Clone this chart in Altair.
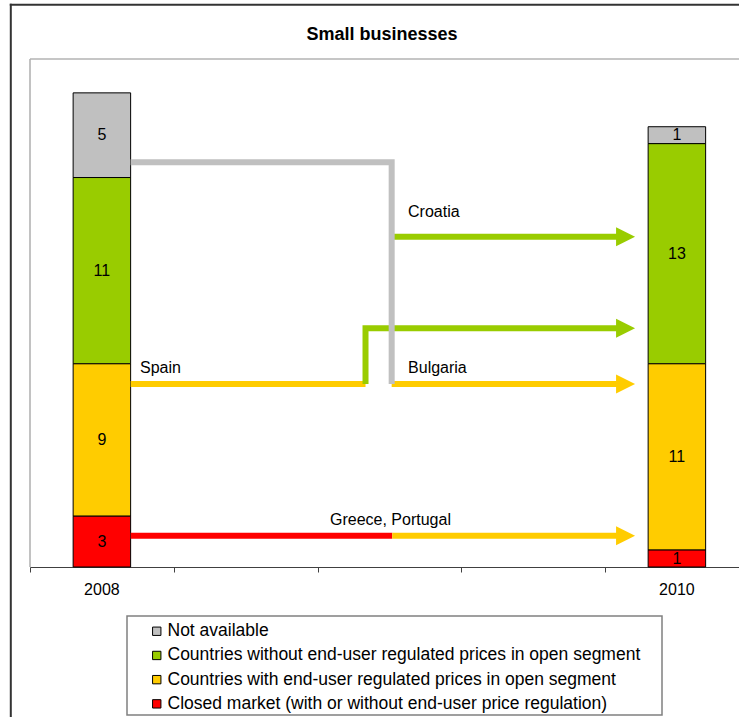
import altair as alt
import pandas as pd

# ---- data -------------------------------------------------------------
categories = [
    "Not available",
    "Countries without end-user regulated prices in open segment",
    "Countries with end-user regulated prices in open segment",
    "Closed market (with or without end-user price regulation)",
]
colors = ["#C0C0C0", "#99CC00", "#FFCC00", "#FF0000"]

years = ["2008", "2010"]
year_slots = [0, 4]            # the axis has five slots; 2008 sits in the first, 2010 in the last
counts_2008 = [5, 11, 9, 3]    # same order as categories
counts_2010 = [1, 13, 11, 1]

# country movements between the two years (x in slots, y in number of countries)
flow_ids = ["spain_a", "spain_b", "greece_a", "greece_b", "croatia", "bulgaria", "na"]
flow_cat = [2, 1, 3, 2, 1, 2, 0]
flow_x = [
    [0.7, 2.334],
    [2.334, 2.334, 4.143],
    [0.7, 2.52],
    [2.52, 4.143],
    [2.516, 4.143],
    [2.516, 4.143],
    [0.7, 2.516, 2.516],
]
flow_y = [
    [10.8, 10.8],
    [10.8, 14.1, 14.1],
    [1.85, 1.85],
    [1.85, 1.85],
    [19.5, 19.5],
    [10.8, 10.8],
    [23.9, 23.9, 10.8],
]

label_text = ["Croatia", "Bulgaria", "Spain", "Greece, Portugal"]
label_x = [2.63, 2.63, 0.765, 2.087]
label_y = [20.95, 11.74, 11.74, 2.76]

# ---- tables -----------------------------------------------------------
bar_rows = []
for year, slot, counts in zip(years, year_slots, [counts_2008, counts_2010]):
    for i, (cat, v) in enumerate(zip(categories, counts)):
        bar_rows.append({"year": year, "slot": slot, "cat": cat,
                         "rank": len(categories) - 1 - i, "value": v})
bars_df = pd.DataFrame(bar_rows)

flow_rows = []
for fid, ci, xs, ys in zip(flow_ids, flow_cat, flow_x, flow_y):
    for k, (x, y) in enumerate(zip(xs, ys)):
        flow_rows.append({"id": fid, "seq": k, "x": x, "y": y,
                          "hex": colors[ci], "gray": ci == 0})
flows_df = pd.DataFrame(flow_rows)

# arrow heads sit on the end point of each flow that reaches 2010
heads_df = (flows_df.sort_values("seq").groupby("id").tail(1))
heads_df = heads_df[heads_df["x"] > year_slots[1]]

labels_df = pd.DataFrame({"t": label_text, "x": label_x, "y": label_y})
years_df = pd.DataFrame({"year": years, "x": [s + 0.5 for s in year_slots]})

# ---- geometry ---------------------------------------------------------
W, H = 709, 508
SLOT_PX = 143.75
x_scale = alt.Scale(domain=[0, W / SLOT_PX], nice=False, zero=False)
y_scale = alt.Scale(domain=[0, 30], nice=False)
FONT = "Liberation Sans"

x_axis = alt.Axis(values=[0, 1, 2, 3, 4], labels=False, ticks=True, tickSize=5,
                  grid=False, title=None, domainColor="#404040",
                  tickColor="#404040", domainWidth=1, tickWidth=1)


def X(field):
    return alt.X(field, scale=x_scale, axis=x_axis)


def Y(field):
    return alt.Y(field, scale=y_scale, axis=None)


stacked = (
    alt.Chart(bars_df)
    .transform_stack(stack="value", groupby=["year"], as_=["y0", "y1"],
                     sort=[alt.SortField("rank", order="ascending")])
    .transform_calculate(bx0="datum.slot + 0.3", bx1="datum.slot + 0.7",
                         bmid="datum.slot + 0.5",
                         ymid="(datum.y0 + datum.y1) / 2")
)

bars = stacked.mark_bar(stroke="#000000", strokeWidth=1).encode(
    x=X("bx0:Q"),
    x2="bx1:Q",
    y=Y("y0:Q"),
    y2="y1:Q",
    color=alt.Color(
        "cat:N",
        scale=alt.Scale(domain=categories, range=colors),
        legend=alt.Legend(
            title=None, orient="none", legendX=118, legendY=563.5,
            direction="vertical", symbolType="square", symbolSize=70,
            symbolStrokeColor="#000000", symbolStrokeWidth=1,
            labelFont=FONT, labelFontSize=17.5, labelColor="#000000",
            labelOffset=2, rowPadding=5.2, padding=0, labelLimit=0,
        ),
    ),
)

bar_text = stacked.mark_text(font=FONT, fontSize=16, color="#000000").encode(
    x=X("bmid:Q"),
    y=Y("ymid:Q"),
    text="value:Q",
)

line_enc = dict(
    x=X("x:Q"),
    y=Y("y:Q"),
    detail="id:N",
    order="seq:Q",
    stroke=alt.Stroke("hex:N", scale=None),
)
colored_lines = (
    alt.Chart(flows_df).transform_filter("!datum.gray")
    .mark_line(strokeWidth=6, strokeCap="butt", strokeJoin="miter")
    .encode(**line_enc)
)
gray_lines = (
    alt.Chart(flows_df).transform_filter("datum.gray")
    .mark_line(strokeWidth=6, strokeCap="butt", strokeJoin="miter")
    .encode(**line_enc)
)

heads = alt.Chart(heads_df).mark_point(
    shape="M-1,-1L1,0L-1,1Z", size=361, filled=True, opacity=1, strokeWidth=0
).encode(
    x=X("x:Q"),
    y=Y("y:Q"),
    fill=alt.Fill("hex:N", scale=None),
)

flow_labels = alt.Chart(labels_df).mark_text(
    font=FONT, fontSize=16, align="left", baseline="middle", color="#000000"
).encode(
    x=X("x:Q"),
    y=Y("y:Q"),
    text="t:N",
)

year_labels = alt.Chart(years_df).mark_text(
    font=FONT, fontSize=16, align="center", baseline="middle", color="#000000"
).encode(
    x=X("x:Q"),
    y=alt.value(H + 23),
    text="year:N",
)

title = alt.Chart(alt.Data(values=[{"t": "Small businesses"}])).mark_text(
    font=FONT, fontSize=18, fontWeight="bold", align="center",
    baseline="middle", color="#000000"
).encode(x=alt.value(352), y=alt.value(-24), text="t:N")

one = alt.Data(values=[{"k": 1}])
plot_top = alt.Chart(one).mark_rule(color="#B3B3B3", strokeWidth=1.6).encode(
    x=alt.value(0), x2=alt.value(W + 5), y=alt.value(0))
plot_left = alt.Chart(one).mark_rule(color="#B3B3B3", strokeWidth=1.6).encode(
    x=alt.value(0), y=alt.value(0), y2=alt.value(H))
frame_top = alt.Chart(one).mark_rule(color="#333333", strokeWidth=2).encode(
    x=alt.value(-20.2), x2=alt.value(W + 5), y=alt.value(-54.2))
frame_left = alt.Chart(one).mark_rule(color="#333333", strokeWidth=2).encode(
    x=alt.value(-19.2), y=alt.value(-55.2), y2=alt.value(H + 160))
legend_box = alt.Chart(one).mark_rect(
    fill="transparent", stroke="#808080", strokeWidth=1.5
).encode(x=alt.value(97), x2=alt.value(632), y=alt.value(557), y2=alt.value(656))

chart = alt.layer(
    bars, plot_top, plot_left, frame_top, frame_left,
    bar_text, colored_lines, gray_lines, heads,
    flow_labels, year_labels, title, legend_box,
).properties(
    width=W, height=H,
    autosize=alt.AutoSizeParams(type="none"),
    padding={"left": 30, "top": 59, "right": 0, "bottom": 150},
).configure_view(stroke=None)

chart.save("out.html", embed_options={"renderer": "svg", "actions": False})
